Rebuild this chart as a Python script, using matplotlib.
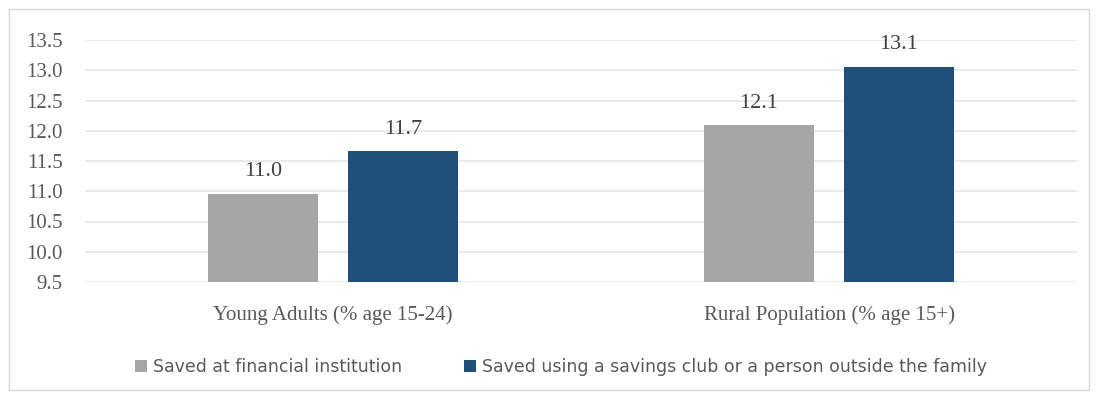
import matplotlib
matplotlib.use("Agg")
import matplotlib.pyplot as plt
from matplotlib.patches import Rectangle
import numpy as np

categories = ["Young Adults (% age 15-24)", "Rural Population (% age 15+)"]
series_names = ["Saved at financial institution",
                "Saved using a savings club or a person outside the family"]
financial = [10.96, 12.09]
club = [11.66, 13.06]
y_ticks = [9.5, 10.0, 10.5, 11.0, 11.5, 12.0, 12.5, 13.0, 13.5]

GRAY = "#a5a5a5"
BLUE = "#1f4e79"
TXT = "#595959"

fig = plt.figure(figsize=(10.97, 3.99), dpi=100)
# light frame round the whole chart
fig.patches.append(Rectangle((0.008, 0.022), 0.985, 0.955, transform=fig.transFigure,
                             fill=False, edgecolor="#d9d9d9", linewidth=1))
ax = fig.add_axes([85 / 1097, 1 - 282 / 399, 992 / 1097, 242 / 399])

x = np.arange(len(categories))
w = 0.222
off = 0.141
b1 = ax.bar(x - off, [v - 9.5 for v in financial], w, bottom=9.5, color=GRAY)
b2 = ax.bar(x + off, [v - 9.5 for v in club], w, bottom=9.5, color=BLUE)

serif = ["Liberation Serif", "DejaVu Serif"]
for xs, vals in ((x - off, financial), (x + off, club)):
    for xi, v in zip(xs, vals):
        ax.text(xi, v + 0.21, f"{v:.1f}", ha="center", va="bottom",
                fontsize=16, color="#404040", family=serif)

ax.set_xlim(-0.5, 1.5)
ax.set_ylim(9.5, 13.5)
ax.set_yticks(y_ticks)
ax.set_yticklabels([f"{t:.1f}" for t in y_ticks], family=serif, fontsize=15, color=TXT)
ax.set_xticks(x)
ax.set_xticklabels(categories, family=serif, fontsize=15, color=TXT)
ax.tick_params(axis="both", length=0)
ax.tick_params(axis="y", pad=16)
ax.tick_params(axis="x", pad=17)
ax.grid(axis="y", color="#e6e6e6", linewidth=1.2)
ax.set_axisbelow(True)
for s in ax.spines.values():
    s.set_visible(False)

leg = fig.legend([b1, b2], series_names, loc="center", bbox_to_anchor=(561 / 1097, 1 - 367 / 399),
                 ncol=2, frameon=False, handlelength=0.7, handleheight=0.7,
                 handletextpad=0.3, columnspacing=3.6,
                 prop={"family": ["DejaVu Sans"], "size": 12.5})
for t in leg.get_texts():
    t.set_color(TXT)

fig.savefig("out.png", dpi=100)
